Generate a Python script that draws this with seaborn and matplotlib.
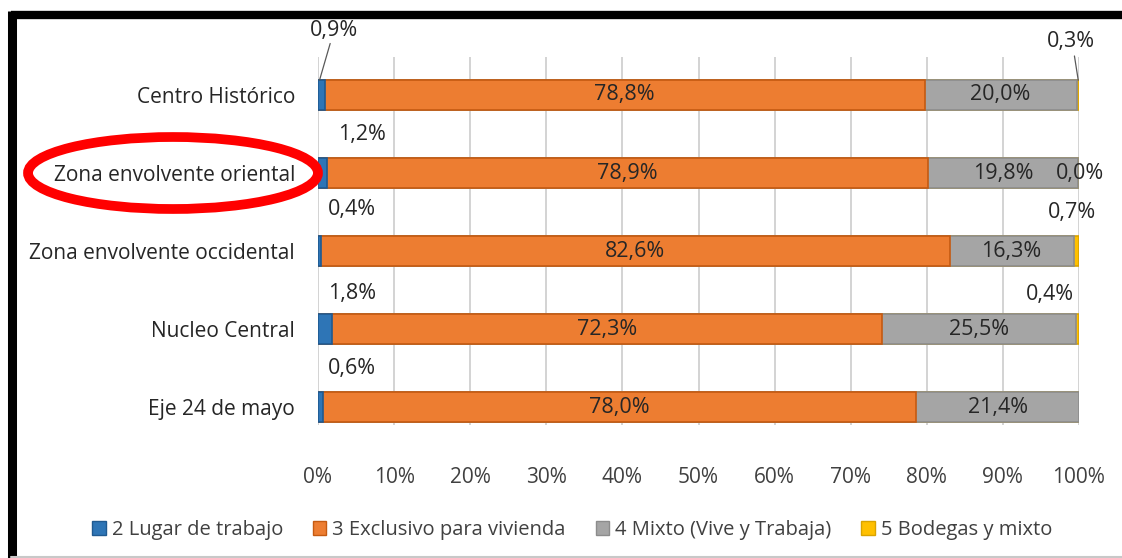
import pandas as pd
import numpy as np
import matplotlib
matplotlib.use("Agg")
import matplotlib.pyplot as plt
import seaborn as sns
from matplotlib.patches import Ellipse, Patch
from matplotlib.lines import Line2D

sns.set_theme(style="white")
plt.rcParams['font.family'] = ['Open Sans', 'DejaVu Sans']

# data (percent of each zone)
zonas = ['Centro Histórico', 'Zona envolvente oriental', 'Zona envolvente occidental',
         'Nucleo Central', 'Eje 24 de mayo']
lugar_trabajo = [0.9, 1.2, 0.4, 1.8, 0.6]
exclusivo_vivienda = [78.8, 78.9, 82.6, 72.3, 78.0]
mixto = [20.0, 19.8, 16.3, 25.5, 21.4]
bodegas = [0.3, 0.0, 0.7, 0.4, 0.0]

series = ['2 Lugar de trabajo', '3 Exclusivo para vivienda',
          '4 Mixto (Vive y Trabaja)', '5 Bodegas y mixto']
colores = ['#2E75B6', '#ED7D31', '#A5A5A5', '#FFC000']
bordes = ['#1F5A91', '#C55A11', '#8C8C8C', '#D9A300']

df = pd.DataFrame({'zona': zonas, series[0]: lugar_trabajo, series[1]: exclusivo_vivienda,
                   series[2]: mixto, series[3]: bodegas})
cum = df[series].cumsum(axis=1)
left = cum - df[series]

fig = plt.figure(figsize=(11.22, 5.58), dpi=100)
ax = fig.add_axes([318/1122, 1-425/558, (1079-318)/1122, (425-57)/558])

# stacked bars: draw cumulative totals from the last series to the first
for i in range(len(series)-1, -1, -1):
    tmp = pd.DataFrame({'zona': zonas, 'valor': cum[series[i]]})
    sns.barplot(data=tmp, y='zona', x='valor', orient='h', color=colores[i],
                width=0.385, edgecolor=bordes[i], linewidth=1.2, saturation=1, ax=ax,
                zorder=3)

ax.set_xlim(0, 100)
ax.set_ylim(4.23, -0.487)
ax.set_xticks(np.arange(0, 101, 10))
ax.set_xticklabels([f'{t}%' for t in range(0, 101, 10)])
ax.xaxis.grid(True, color='#D0D0D0', linewidth=1.3, zorder=0)
ax.set_axisbelow(True)
ax.set_xlabel('')
ax.set_ylabel('')
for s in ax.spines.values():
    s.set_visible(False)
ax.tick_params(axis='x', length=0, pad=30, labelsize=15, labelcolor='#404040')
ax.tick_params(axis='y', length=0, pad=16.5, labelsize=15, labelcolor='#262626')

def fmt(v):
    return f'{v:.1f}%'.replace('.', ',')

fs = 15.5
# labels inside the big segments
for r in range(len(zonas)):
    for i in (1, 2):
        xc = left.iloc[r][series[i]] + df.iloc[r][series[i]] / 2
        ax.text(xc, r, fmt(df.iloc[r][series[i]]), ha='center', va='center',
                fontsize=fs, color='#262626', zorder=5)

# labels for the small segments, placed outside the bars
small_left = [(2.1, -0.83), (5.8, 0.50), (4.5, 1.47), (4.5, 2.55), (4.5, 3.50)]
small_right = [(99.0, -0.68), (100.1, 1.0), (99.1, 1.51), (96.2, 2.56), None]
for r in range(len(zonas)):
    x, y = small_left[r]
    ax.text(x, y, fmt(lugar_trabajo[r]), ha='center', va='center', fontsize=fs,
            color='#262626', clip_on=False, zorder=5)
    if small_right[r] is not None:
        x, y = small_right[r]
        ax.text(x, y, fmt(bodegas[r]), ha='center', va='center', fontsize=fs,
                color='#262626', clip_on=False, zorder=5)

# leader lines
ax.plot([1.6, 0.2], [-0.66, -0.19], color='#595959', lw=0.9, clip_on=False, zorder=6)
ax.plot([99.4, 99.9], [-0.50, -0.19], color='#595959', lw=0.9, clip_on=False, zorder=6)

# legend
handles = [Patch(facecolor=colores[i], edgecolor=bordes[i]) for i in range(len(series))]
fig.legend(handles, series, loc='center', bbox_to_anchor=(0.51, 1-530/558), ncol=4,
           frameon=False, fontsize=14.5, handlelength=0.65, handleheight=0.65,
           handletextpad=0.3, columnspacing=1.5, labelcolor='#404040')

# red ellipse around the highlighted zone
fig.add_artist(Ellipse((173/1122, 1-173/558), 290/1122, 72/558, transform=fig.transFigure,
                       fill=False, edgecolor='#FF0000', linewidth=7))

# frame
fig.add_artist(Line2D([11/1122, 1], [1-15/558, 1-15/558], transform=fig.transFigure,
                      color='black', linewidth=6, solid_capstyle='butt'))
fig.add_artist(Line2D([11.5/1122, 11.5/1122], [0, 1-11/558], transform=fig.transFigure,
                      color='black', linewidth=6.5, solid_capstyle='butt'))
fig.add_artist(Line2D([11/1122, 1], [1.5/558, 1.5/558], transform=fig.transFigure,
                      color='#C8C8C8', linewidth=1.5))

fig.savefig('out.png', dpi=100)
